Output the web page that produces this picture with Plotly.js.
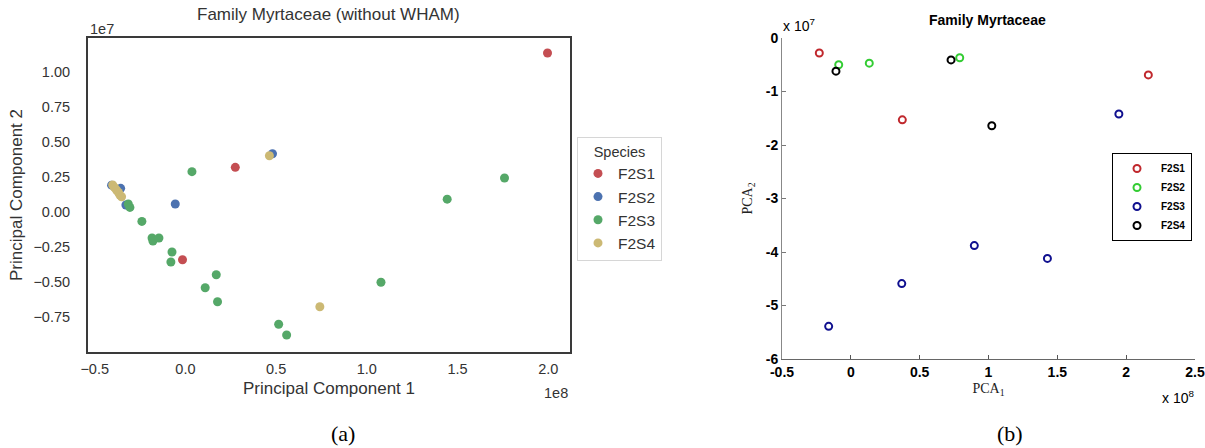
<!DOCTYPE html>
<html><head><meta charset="utf-8">
<script src="https://cdn.plot.ly/plotly-3.0.1.min.js"></script>
<style>html,body{margin:0;padding:0;background:#fff}#chart{width:1205px;height:448px}</style>
</head><body><div id="chart"></div>
<script>
// ---------- DATA ----------
const species = ["F2S1", "F2S2", "F2S3", "F2S4"];

// Panel (a): Principal Component 1 (x 1e8), Principal Component 2 (x 1e7)
const aF2S1x = [1.996, 0.275, -0.016];
const aF2S1y = [1.134, 0.317, -0.343];
const aF2S2x = [0.480, -0.056, -0.357, -0.328, -0.407];
const aF2S2y = [0.414, 0.055, 0.167, 0.048, 0.190];
const aF2S3x = [0.036, 1.443, 1.759, -0.315, -0.306, -0.240, -0.184, -0.179, -0.146, -0.074, -0.080, 0.170, 0.109, 0.177, 0.514, 0.558, 1.078];
const aF2S3y = [0.286, 0.090, 0.241, 0.055, 0.031, -0.069, -0.188, -0.209, -0.188, -0.288, -0.359, -0.450, -0.543, -0.643, -0.804, -0.881, -0.504];
const aF2S4x = [0.463, 0.741, -0.401, -0.391, -0.380, -0.369, -0.361, -0.352];
const aF2S4y = [0.400, -0.679, 0.191, 0.173, 0.155, 0.137, 0.119, 0.107];

// Panel (b): PCA1 (x 1e8), PCA2 (x 1e7)
const bF2S1x = [-0.229, 0.374, 2.161];
const bF2S1y = [-0.28, -1.53, -0.69];
const bF2S2x = [-0.088, 0.134, 0.791];
const bF2S2y = [-0.50, -0.47, -0.37];
const bF2S3x = [1.947, -0.161, 0.370, 0.897, 1.428];
const bF2S3y = [-1.42, -5.39, -4.59, -3.88, -4.12];
const bF2S4x = [-0.108, 0.728, 1.024];
const bF2S4y = [-0.62, -0.41, -1.64];

// tick labels
const aXTicks = [-0.5, 0, 0.5, 1.0, 1.5, 2.0];
const aYTicks = [-0.75, -0.5, -0.25, 0, 0.25, 0.5, 0.75, 1.0];
const bXTicks = [-0.5, 0, 0.5, 1, 1.5, 2, 2.5];
const bXTickText = ["-0.5", "0", "0.5", "1", "1.5", "2", "2.5"];
const bYTicks = [0, -1, -2, -3, -4, -5, -6];
const bYTickText = ["0", "-1", "-2", "-3", "-4", "-5", "-6"];

// ---------- STYLE ----------
const aColors = ["#c44e52", "#4c72b0", "#55a868", "#ccb974"];
const bColors = ["#c0282d", "#33cc33", "#10108f", "#000000"];
const W = 1205, H = 448;
const px = x => x / W;
const py = y => 1 - y / H;
const sans = "Liberation Sans, Arial, sans-serif";
const serif = "Liberation Serif, Times New Roman, serif";

const aX = [aF2S1x, aF2S2x, aF2S3x, aF2S4x];
const aY = [aF2S1y, aF2S2y, aF2S3y, aF2S4y];
const bX = [bF2S1x, bF2S2x, bF2S3x, bF2S4x];
const bY = [bF2S1y, bF2S2y, bF2S3y, bF2S4y];

const traces = [];
species.forEach((s, i) => {
  traces.push({
    type: "scatter", mode: "markers", name: s, x: aX[i], y: aY[i],
    xaxis: "x", yaxis: "y", legend: "legend",
    marker: {size: 9, color: aColors[i], line: {width: 0}},
    hoverinfo: "x+y+name"
  });
});
species.forEach((s, i) => {
  traces.push({
    type: "scatter", mode: "markers", name: s, x: bX[i], y: bY[i],
    xaxis: "x2", yaxis: "y2", legend: "legend2",
    marker: {size: 7, symbol: "circle-open", color: bColors[i], line: {width: 2, color: bColors[i]}},
    hoverinfo: "x+y+name"
  });
});

const layout = {
  width: W, height: H,
  margin: {l: 0, r: 0, t: 0, b: 0},
  paper_bgcolor: "#fff", plot_bgcolor: "#fff",
  showlegend: true,
  font: {family: sans, color: "#333"},
  xaxis: {
    domain: [px(88), px(570)], range: [-0.537, 2.12], anchor: "y",
    tickvals: aXTicks, tickformat: ".1f", ticks: "", showgrid: false, zeroline: false,
    showline: true, mirror: true, linecolor: "#3a3a3a", linewidth: 2,
    tickfont: {family: sans, size: 14.5, color: "#333"}, ticklabelstandoff: 3,
    title: {text: "Principal Component 1", font: {family: sans, size: 17, color: "#333"}, standoff: 6},
    automargin: false
  },
  yaxis: {
    domain: [py(351.7), py(38.3)], range: [-1.0, 1.239], anchor: "x",
    tickvals: aYTicks, tickformat: ".2f", ticks: "", showgrid: false, zeroline: false,
    showline: true, mirror: true, linecolor: "#3a3a3a", linewidth: 2,
    tickfont: {family: sans, size: 14.5, color: "#333"}, ticklabelstandoff: 13,
    title: {text: "Principal Component 2", font: {family: sans, size: 17, color: "#333"}, standoff: 6},
    automargin: false
  },
  xaxis2: {
    domain: [px(782), px(1195)], range: [-0.5, 2.5], anchor: "y2",
    tickvals: bXTicks, ticktext: bXTickText, ticks: "inside", ticklen: 4, tickcolor: "#555",
    showgrid: false, zeroline: false, showline: true, mirror: false, linecolor: "#666", linewidth: 1,
    tickfont: {family: sans, size: 14, color: "#000", weight: "bold"}, ticklabelstandoff: 0,
    title: {text: "PCA<sub>1</sub>", font: {family: serif, size: 14, color: "#222"}, standoff: 4},
    automargin: false
  },
  yaxis2: {
    domain: [py(359), py(38)], range: [-6, 0], anchor: "x2",
    tickvals: bYTicks, ticktext: bYTickText, ticks: "inside", ticklen: 4, tickcolor: "#777",
    showgrid: false, zeroline: false, showline: true, mirror: false, linecolor: "#888", linewidth: 1,
    tickfont: {family: sans, size: 14, color: "#000", weight: "bold"}, ticklabelstandoff: 0,
    title: {text: "PCA<sub>2</sub>", font: {family: serif, size: 14, color: "#222"}, standoff: 9},
    automargin: false
  },
  legend: {
    x: px(577), y: py(137), xanchor: "left", yanchor: "top",
    bgcolor: "#fff", bordercolor: "#d6d6d6", borderwidth: 1,
    font: {family: sans, size: 15.5, color: "#333"},
    title: {text: "Species", side: "top center", font: {family: sans, size: 14.5, color: "#333"}},
    itemwidth: 30
  },
  legend2: {
    x: px(1112), y: py(153), xanchor: "left", yanchor: "top",
    bgcolor: "#fff", bordercolor: "#000", borderwidth: 1,
    font: {family: sans, size: 10, color: "#000", weight: "bold"},
    itemwidth: 38
  },
  annotations: [
    {text: "Family Myrtaceae (without WHAM)", x: px(329), y: py(14), xref: "paper", yref: "paper",
     showarrow: false, xanchor: "center", yanchor: "middle", font: {family: sans, size: 17, color: "#333"}},
    {text: "1e7", x: px(88), y: py(29), xref: "paper", yref: "paper",
     showarrow: false, xanchor: "left", yanchor: "middle", font: {family: sans, size: 14.5, color: "#333"}},
    {text: "1e8", x: px(570), y: py(393), xref: "paper", yref: "paper",
     showarrow: false, xanchor: "right", yanchor: "middle", font: {family: sans, size: 14.5, color: "#333"}},
    {text: "Family Myrtaceae", x: px(987), y: py(20), xref: "paper", yref: "paper",
     showarrow: false, xanchor: "center", yanchor: "middle", font: {family: sans, size: 14, color: "#000", weight: "bold"}},
    {text: "x 10<sup>7</sup>", x: px(781), y: py(25), xref: "paper", yref: "paper",
     showarrow: false, xanchor: "left", yanchor: "middle", font: {family: sans, size: 14, color: "#000"}},
    {text: "x 10<sup>8</sup>", x: px(1196), y: py(397), xref: "paper", yref: "paper",
     showarrow: false, xanchor: "right", yanchor: "middle", font: {family: sans, size: 14, color: "#000"}},
    {text: "(a)", x: px(343), y: py(433), xref: "paper", yref: "paper",
     showarrow: false, xanchor: "center", yanchor: "middle", font: {family: serif, size: 22, color: "#000"}},
    {text: "(b)", x: px(1010), y: py(433), xref: "paper", yref: "paper",
     showarrow: false, xanchor: "center", yanchor: "middle", font: {family: serif, size: 22, color: "#000"}}
  ]
};

Plotly.newPlot("chart", traces, layout, {displayModeBar: false, staticPlot: true});
</script>
</body></html>
